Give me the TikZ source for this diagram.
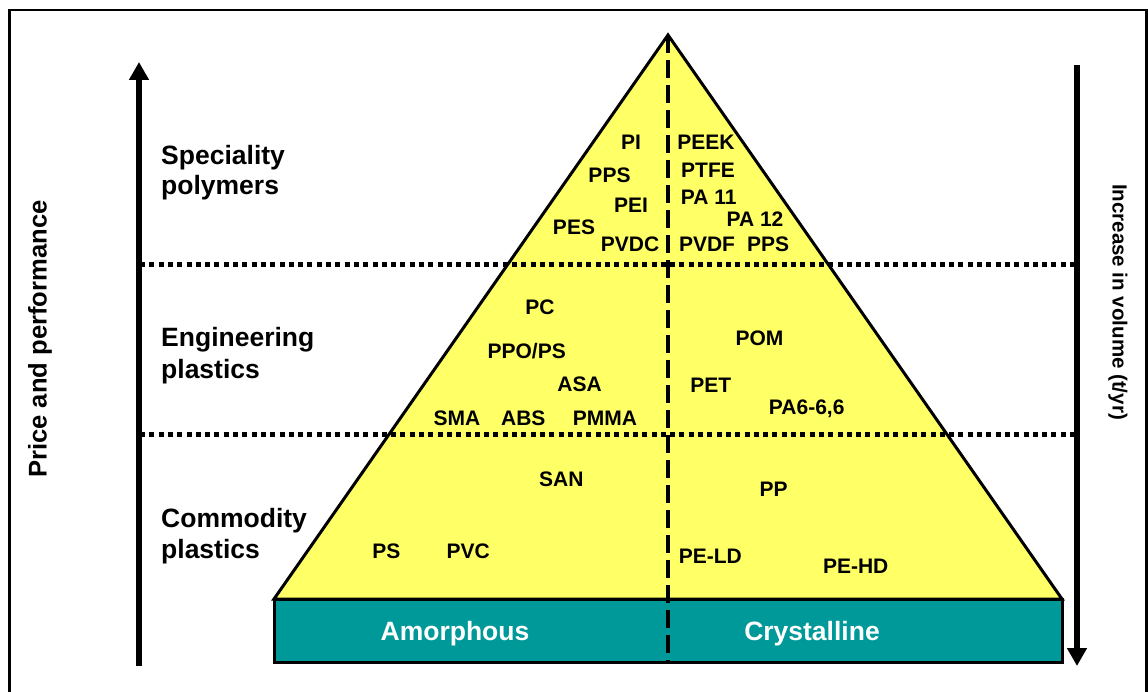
\documentclass[tikz,border=0pt]{standalone}
\usepackage{fontspec}
\setmainfont{Liberation Sans}
\usetikzlibrary{arrows.meta}
\definecolor{pyel}{RGB}{255,255,102}
\definecolor{pteal}{RGB}{0,153,153}
\begin{document}
\begin{tikzpicture}[x=1pt,y=-1pt,
  lab/.style={font=\fontsize{21}{25}\selectfont\bfseries, anchor=base, inner sep=0pt},
  big/.style={font=\fontsize{26.5}{31}\selectfont\bfseries, anchor=base west, inner sep=0pt},
  bar/.style={font=\fontsize{26.5}{31}\selectfont\bfseries, text=white, anchor=base, inner sep=0pt},
  dotline/.style={line width=5pt, dash pattern=on 5pt off 4.3pt},
  dashline/.style={line width=4.5pt, dash pattern=on 18pt off 7pt},
  bigarrow/.style={line width=6pt, -{Triangle[width=19pt,length=18pt]}}]
\useasboundingbox (0,0) rectangle (1148,692);
\clip (0,0) rectangle (1148,692);
\fill[white] (0,0) rectangle (1148,692);
% frame
\draw[line width=2.3pt] (9.5,700) -- (9.5,10.3) -- (1146.5,10.3) -- (1146.5,700);
% coordinates
\coordinate (apex) at (668,35);
\coordinate (bl) at (274,599);
\coordinate (br) at (1062,599);
\coordinate (bbl) at (274,662.5);
\coordinate (bbr) at (1062,662.5);
% triangle
\draw[fill=pyel, line width=3pt, line join=miter] (bl) -- (apex) -- (br) -- cycle;
% teal bar
\draw[fill=pteal, line width=3pt] (bl) rectangle (bbr);
% dotted lines
\coordinate (d1l) at (140,265);
\coordinate (d1r) at (1075,265);
\coordinate (d2l) at (140,434);
\coordinate (d2r) at (1075,434);
\draw[dotline] (d1l) -- (d1r);
\draw[dotline] (d2l) -- (d2r);
% dashed vertical
\coordinate (vbot) at (668,662.5);
\draw[dashline] (apex) -- (vbot);
% arrows
\coordinate (la0) at (139,666);
\coordinate (la1) at (139,62);
\coordinate (ra0) at (1077,65);
\coordinate (ra1) at (1077,666);
\draw[bigarrow] (la0) -- (la1);
\draw[bigarrow] (ra0) -- (ra1);
% side texts
\node[font=\fontsize{25.6}{30}\selectfont\bfseries, rotate=90, inner sep=0pt] (pp) at (40,339) {Price and performance};
\node[font=\fontsize{20.5}{25}\selectfont\bfseries, rotate=-90, inner sep=0pt] (iv) at (1118,302) {Increase in volume (t/yr)};
% category labels
\node[big] (sp1) at (161,165) {Speciality};
\node[big] (sp2) at (161,195) {polymers};
\node[big] (en1) at (161,347) {Engineering};
\node[big] (en2) at (161,378) {plastics};
\node[big] (co1) at (161,527) {Commodity};
\node[big] (co2) at (161,558) {plastics};
% bar labels
\node[bar] (am) at (455,640.5) {Amorphous};
\node[bar] (cr) at (812,640.5) {Crystalline};
% polymer labels (baseline = cap centre + 7.5)
\node[lab] (pi) at (631,150) {PI};
\node[lab] (pps1) at (609.5,182.5) {PPS};
\node[lab] (pei) at (631,212.5) {PEI};
\node[lab] (pes) at (574,234.5) {PES};
\node[lab] (pvdc) at (630,252) {PVDC};
\node[lab] (peek) at (706,150) {PEEK};
\node[lab] (ptfe) at (708,177.5) {PTFE};
\node[lab] (pa11) at (708.7,204.5) {PA 11};
\node[lab] (pa12) at (755,226.5) {PA 12};
\node[lab] (pvdf) at (707,252) {PVDF};
\node[lab] (pps2) at (768,252) {PPS};
\node[lab] (pc) at (540,315) {PC};
\node[lab] (ppo) at (526.7,358.8) {PPO/PS};
\node[lab] (asa) at (579.5,391.5) {ASA};
\node[lab] (sma) at (457,425.3) {SMA};
\node[lab] (abs) at (523.3,425.3) {ABS};
\node[lab] (pmma) at (605,425.3) {PMMA};
\node[lab] (pom) at (759.5,345.5) {POM};
\node[lab] (pet) at (710.8,392.2) {PET};
\node[lab] (pa66) at (806.7,414.2) {PA6-6,6};
\node[lab] (san) at (561.3,486.7) {SAN};
\node[lab] (pp) at (773.7,496.2) {PP};
\node[lab] (ps) at (386.3,558) {PS};
\node[lab] (pvc) at (468.3,558) {PVC};
\node[lab] (peld) at (710.3,563.5) {PE-LD};
\node[lab] (pehd) at (855.7,573.5) {PE-HD};
\end{tikzpicture}
\end{document}
